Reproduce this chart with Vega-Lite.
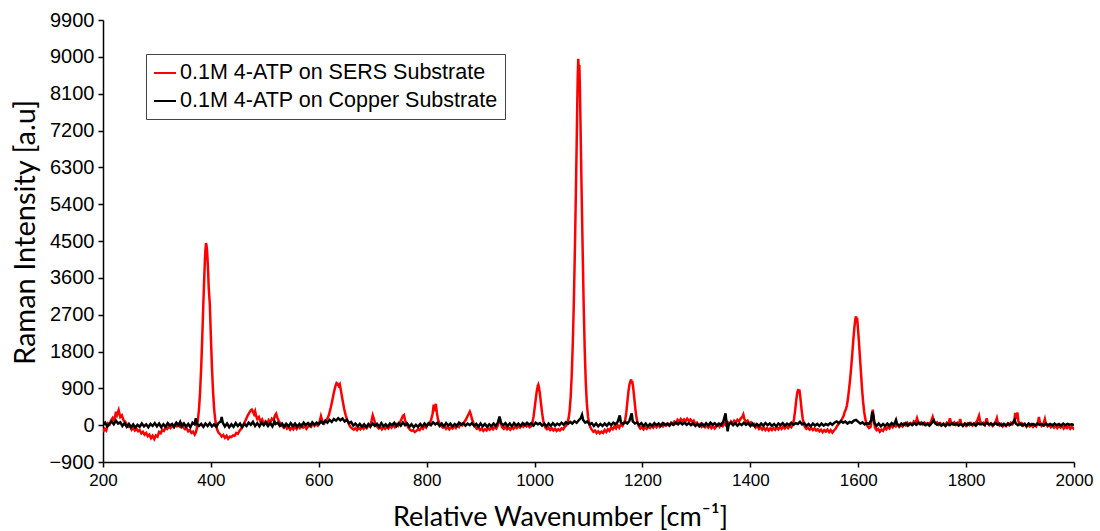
{
"$schema": "https://vega.github.io/schema/vega-lite/v6.json",
"width": 971, "height": 442,
"autosize": {"type": "none"},
"padding": {"left": 103, "top": 20, "right": 26, "bottom": 69},
"background": "white",
"config": {"view": {"stroke": null}, "axis": {"grid": false, "domainColor": "black", "tickColor": "black", "labelColor": "black", "titleColor": "black", "domainWidth": 1.5, "tickWidth": 1.5, "tickSize": 5, "labelFlush": false, "labelOverlap": false}},
"datasets": {
"sers": [
{"x":200,"y":-170},{"x":203,"y":-90},{"x":206,"y":-130},{"x":209,"y":40},{"x":212,"y":10},{"x":215,"y":120},{"x":218,"y":180},{"x":221,"y":110},{"x":224,"y":330},{"x":226,"y":250},{"x":229,"y":370},{"x":232,"y":200},{"x":235,"y":240},{"x":238,"y":120},{"x":241,"y":90},{"x":244,"y":20},{"x":247,"y":-40},{"x":250,"y":-20},{"x":253,"y":-110},{"x":256,"y":-60},{"x":259,"y":-130},{"x":262,"y":-90},{"x":265,"y":-150},{"x":268,"y":-120},{"x":271,"y":-200},{"x":274,"y":-160},{"x":277,"y":-230},{"x":280,"y":-190},{"x":283,"y":-270},{"x":286,"y":-230},{"x":289,"y":-320},{"x":292,"y":-260},{"x":295,"y":-340},{"x":298,"y":-250},{"x":301,"y":-280},{"x":304,"y":-170},{"x":307,"y":-200},{"x":310,"y":-110},{"x":313,"y":-140},{"x":316,"y":-60},{"x":319,"y":-90},{"x":322,"y":-30},{"x":325,"y":-70},{"x":328,"y":-10},{"x":331,"y":-50},{"x":334,"y":20},{"x":337,"y":-30},{"x":340,"y":10},{"x":343,"y":-40},{"x":346,"y":30},{"x":349,"y":-60},{"x":352,"y":-100},{"x":355,"y":-80},{"x":358,"y":-150},{"x":361,"y":-120},{"x":364,"y":-190},{"x":367,"y":-160},{"x":370,"y":-230},{"x":372,"y":-180},{"x":374,"y":-80},{"x":376,"y":140},{"x":378,"y":400},{"x":380,"y":820},{"x":382,"y":1400},{"x":384,"y":2150},{"x":386,"y":2960},{"x":387,"y":3350},{"x":388,"y":3720},{"x":389,"y":4050},{"x":390,"y":4300},{"x":391,"y":4450},{"x":392,"y":4380},{"x":393,"y":4250},{"x":394,"y":4000},{"x":395,"y":3720},{"x":396,"y":3350},{"x":398,"y":2960},{"x":400,"y":2150},{"x":402,"y":1400},{"x":404,"y":820},{"x":406,"y":400},{"x":408,"y":140},{"x":410,"y":-20},{"x":412,"y":-120},{"x":414,"y":-180},{"x":417,"y":-220},{"x":420,"y":-280},{"x":423,"y":-240},{"x":426,"y":-310},{"x":429,"y":-260},{"x":432,"y":-330},{"x":435,"y":-280},{"x":438,"y":-290},{"x":441,"y":-250},{"x":444,"y":-260},{"x":447,"y":-190},{"x":450,"y":-210},{"x":453,"y":-140},{"x":456,"y":-90},{"x":459,"y":-20},{"x":462,"y":60},{"x":465,"y":140},{"x":468,"y":230},{"x":471,"y":300},{"x":474,"y":360},{"x":476,"y":380},{"x":478,"y":330},{"x":480,"y":270},{"x":482,"y":340},{"x":484,"y":220},{"x":486,"y":150},{"x":489,"y":200},{"x":492,"y":80},{"x":495,"y":140},{"x":498,"y":40},{"x":501,"y":90},{"x":504,"y":20},{"x":507,"y":120},{"x":510,"y":60},{"x":513,"y":160},{"x":516,"y":120},{"x":519,"y":240},{"x":521,"y":280},{"x":523,"y":190},{"x":526,"y":100},{"x":529,"y":30},{"x":532,"y":-20},{"x":535,"y":-60},{"x":538,"y":10},{"x":541,"y":-80},{"x":544,"y":-40},{"x":547,"y":-110},{"x":550,"y":-50},{"x":553,"y":-100},{"x":556,"y":-30},{"x":559,"y":-90},{"x":562,"y":-20},{"x":565,"y":-70},{"x":568,"y":0},{"x":571,"y":-60},{"x":574,"y":-20},{"x":577,"y":-90},{"x":580,"y":-40},{"x":583,"y":20},{"x":586,"y":-30},{"x":589,"y":40},{"x":592,"y":-20},{"x":595,"y":30},{"x":598,"y":-10},{"x":601,"y":60},{"x":604,"y":220},{"x":607,"y":80},{"x":610,"y":40},{"x":613,"y":110},{"x":616,"y":160},{"x":619,"y":260},{"x":622,"y":420},{"x":625,"y":600},{"x":628,"y":800},{"x":631,"y":960},{"x":633,"y":1030},{"x":635,"y":1010},{"x":637,"y":960},{"x":639,"y":1000},{"x":641,"y":850},{"x":644,"y":620},{"x":647,"y":400},{"x":650,"y":240},{"x":653,"y":110},{"x":656,"y":20},{"x":659,"y":-50},{"x":662,"y":-80},{"x":665,"y":-110},{"x":668,"y":-70},{"x":671,"y":-120},{"x":674,"y":-60},{"x":677,"y":-100},{"x":680,"y":-40},{"x":683,"y":-90},{"x":686,"y":-20},{"x":689,"y":-70},{"x":692,"y":0},{"x":695,"y":-40},{"x":698,"y":120},{"x":700,"y":240},{"x":702,"y":160},{"x":705,"y":30},{"x":708,"y":-30},{"x":711,"y":-80},{"x":714,"y":-40},{"x":717,"y":-100},{"x":720,"y":-50},{"x":723,"y":-90},{"x":726,"y":-30},{"x":729,"y":-80},{"x":732,"y":-20},{"x":735,"y":-60},{"x":738,"y":10},{"x":741,"y":-50},{"x":744,"y":20},{"x":747,"y":-20},{"x":750,"y":60},{"x":753,"y":140},{"x":756,"y":230},{"x":758,"y":250},{"x":760,"y":120},{"x":763,"y":20},{"x":766,"y":-60},{"x":769,"y":-110},{"x":772,"y":-140},{"x":775,"y":-120},{"x":778,"y":-170},{"x":781,"y":-140},{"x":784,"y":-100},{"x":787,"y":-120},{"x":790,"y":-60},{"x":793,"y":-90},{"x":796,"y":-20},{"x":799,"y":-60},{"x":802,"y":30},{"x":805,"y":10},{"x":808,"y":120},{"x":811,"y":280},{"x":813,"y":500},{"x":815,"y":420},{"x":817,"y":520},{"x":819,"y":300},{"x":821,"y":140},{"x":824,"y":40},{"x":827,"y":-20},{"x":830,"y":-60},{"x":833,"y":-30},{"x":836,"y":-90},{"x":839,"y":-40},{"x":842,"y":-100},{"x":845,"y":-50},{"x":848,"y":-80},{"x":851,"y":-20},{"x":854,"y":-70},{"x":857,"y":10},{"x":860,"y":-40},{"x":863,"y":40},{"x":866,"y":0},{"x":869,"y":60},{"x":872,"y":120},{"x":875,"y":200},{"x":878,"y":280},{"x":880,"y":330},{"x":882,"y":260},{"x":884,"y":150},{"x":887,"y":40},{"x":890,"y":-40},{"x":893,"y":-90},{"x":896,"y":-60},{"x":899,"y":-120},{"x":902,"y":-80},{"x":905,"y":-140},{"x":908,"y":-100},{"x":911,"y":-130},{"x":914,"y":-70},{"x":917,"y":-110},{"x":920,"y":-60},{"x":923,"y":-100},{"x":926,"y":-40},{"x":929,"y":-80},{"x":932,"y":-10},{"x":935,"y":180},{"x":937,"y":60},{"x":940,"y":-50},{"x":943,"y":-90},{"x":946,"y":-40},{"x":949,"y":-100},{"x":952,"y":-60},{"x":955,"y":-110},{"x":958,"y":-50},{"x":961,"y":-90},{"x":964,"y":-30},{"x":967,"y":-70},{"x":970,"y":-20},{"x":973,"y":-60},{"x":976,"y":0},{"x":979,"y":-40},{"x":982,"y":20},{"x":985,"y":-30},{"x":988,"y":10},{"x":991,"y":-50},{"x":994,"y":-20},{"x":996,"y":60},{"x":998,"y":200},{"x":1000,"y":400},{"x":1002,"y":620},{"x":1004,"y":820},{"x":1006,"y":960},{"x":1007,"y":990},{"x":1008,"y":940},{"x":1010,"y":760},{"x":1012,"y":520},{"x":1014,"y":300},{"x":1016,"y":120},{"x":1018,"y":20},{"x":1020,"y":-60},{"x":1023,"y":-100},{"x":1026,"y":-60},{"x":1029,"y":-120},{"x":1032,"y":-80},{"x":1035,"y":-130},{"x":1038,"y":-90},{"x":1041,"y":-140},{"x":1044,"y":-100},{"x":1047,"y":-130},{"x":1050,"y":-80},{"x":1053,"y":-100},{"x":1056,"y":-40},{"x":1059,"y":0},{"x":1061,"y":60},{"x":1063,"y":160},{"x":1065,"y":350},{"x":1067,"y":700},{"x":1069,"y":1250},{"x":1071,"y":2050},{"x":1073,"y":3100},{"x":1075,"y":4450},{"x":1077,"y":6000},{"x":1078,"y":6800},{"x":1079,"y":7700},{"x":1080,"y":8500},{"x":1081,"y":8950},{"x":1082,"y":8700},{"x":1083,"y":8800},{"x":1084,"y":8300},{"x":1085,"y":7500},{"x":1086,"y":6700},{"x":1087,"y":5900},{"x":1089,"y":4400},{"x":1091,"y":2980},{"x":1093,"y":1830},{"x":1095,"y":1030},{"x":1097,"y":520},{"x":1099,"y":220},{"x":1101,"y":60},{"x":1103,"y":-40},{"x":1106,"y":-110},{"x":1109,"y":-160},{"x":1112,"y":-130},{"x":1115,"y":-190},{"x":1118,"y":-150},{"x":1121,"y":-200},{"x":1124,"y":-160},{"x":1127,"y":-190},{"x":1130,"y":-120},{"x":1133,"y":-170},{"x":1136,"y":-100},{"x":1139,"y":-140},{"x":1142,"y":-60},{"x":1145,"y":-100},{"x":1148,"y":-30},{"x":1151,"y":-80},{"x":1154,"y":0},{"x":1157,"y":-60},{"x":1160,"y":20},{"x":1163,"y":-20},{"x":1166,"y":60},{"x":1168,"y":120},{"x":1170,"y":300},{"x":1172,"y":560},{"x":1174,"y":820},{"x":1176,"y":1000},{"x":1178,"y":1080},{"x":1179,"y":1120},{"x":1180,"y":1020},{"x":1181,"y":1080},{"x":1183,"y":900},{"x":1185,"y":640},{"x":1187,"y":380},{"x":1189,"y":180},{"x":1191,"y":60},{"x":1193,"y":-20},{"x":1196,"y":-80},{"x":1199,"y":-40},{"x":1202,"y":-100},{"x":1205,"y":-50},{"x":1208,"y":-90},{"x":1211,"y":-30},{"x":1214,"y":-70},{"x":1217,"y":-10},{"x":1220,"y":-60},{"x":1223,"y":0},{"x":1226,"y":-50},{"x":1229,"y":10},{"x":1232,"y":-40},{"x":1235,"y":20},{"x":1238,"y":-30},{"x":1241,"y":30},{"x":1244,"y":-10},{"x":1247,"y":40},{"x":1250,"y":0},{"x":1253,"y":60},{"x":1256,"y":20},{"x":1259,"y":90},{"x":1262,"y":50},{"x":1265,"y":130},{"x":1268,"y":80},{"x":1271,"y":150},{"x":1274,"y":100},{"x":1277,"y":140},{"x":1280,"y":90},{"x":1283,"y":160},{"x":1286,"y":110},{"x":1289,"y":140},{"x":1292,"y":70},{"x":1295,"y":110},{"x":1298,"y":30},{"x":1301,"y":60},{"x":1304,"y":-10},{"x":1307,"y":30},{"x":1310,"y":-40},{"x":1313,"y":10},{"x":1316,"y":-50},{"x":1319,"y":0},{"x":1322,"y":-60},{"x":1325,"y":-10},{"x":1328,"y":-70},{"x":1331,"y":-20},{"x":1334,"y":-80},{"x":1337,"y":-30},{"x":1340,"y":20},{"x":1343,"y":-40},{"x":1346,"y":30},{"x":1349,"y":-20},{"x":1352,"y":50},{"x":1355,"y":0},{"x":1358,"y":70},{"x":1361,"y":20},{"x":1364,"y":90},{"x":1367,"y":40},{"x":1370,"y":110},{"x":1373,"y":60},{"x":1376,"y":130},{"x":1379,"y":90},{"x":1382,"y":160},{"x":1385,"y":200},{"x":1387,"y":260},{"x":1389,"y":150},{"x":1392,"y":80},{"x":1395,"y":110},{"x":1398,"y":40},{"x":1401,"y":70},{"x":1404,"y":0},{"x":1407,"y":30},{"x":1410,"y":-60},{"x":1413,"y":-20},{"x":1416,"y":-90},{"x":1419,"y":-50},{"x":1422,"y":-110},{"x":1425,"y":-60},{"x":1428,"y":-120},{"x":1431,"y":-70},{"x":1434,"y":-130},{"x":1437,"y":-80},{"x":1440,"y":-120},{"x":1443,"y":-70},{"x":1446,"y":-110},{"x":1449,"y":-50},{"x":1452,"y":-100},{"x":1455,"y":-40},{"x":1458,"y":-90},{"x":1461,"y":-30},{"x":1464,"y":-80},{"x":1467,"y":-20},{"x":1470,"y":-70},{"x":1473,"y":-10},{"x":1476,"y":-50},{"x":1479,"y":30},{"x":1481,"y":150},{"x":1483,"y":350},{"x":1485,"y":600},{"x":1487,"y":790},{"x":1489,"y":880},{"x":1490,"y":820},{"x":1491,"y":870},{"x":1493,"y":640},{"x":1495,"y":380},{"x":1497,"y":170},{"x":1499,"y":40},{"x":1501,"y":-40},{"x":1504,"y":-90},{"x":1507,"y":-60},{"x":1510,"y":-110},{"x":1513,"y":-70},{"x":1516,"y":-120},{"x":1519,"y":-80},{"x":1522,"y":-130},{"x":1525,"y":-100},{"x":1528,"y":-150},{"x":1531,"y":-110},{"x":1534,"y":-170},{"x":1537,"y":-120},{"x":1540,"y":-160},{"x":1543,"y":-110},{"x":1546,"y":-170},{"x":1549,"y":-120},{"x":1552,"y":-180},{"x":1555,"y":-130},{"x":1558,"y":-90},{"x":1561,"y":-20},{"x":1564,"y":40},{"x":1567,"y":80},{"x":1570,"y":150},{"x":1573,"y":230},{"x":1575,"y":330},{"x":1577,"y":380},{"x":1579,"y":480},{"x":1581,"y":650},{"x":1583,"y":880},{"x":1585,"y":1120},{"x":1587,"y":1420},{"x":1589,"y":1750},{"x":1591,"y":2100},{"x":1593,"y":2400},{"x":1595,"y":2620},{"x":1596,"y":2660},{"x":1597,"y":2550},{"x":1598,"y":2620},{"x":1599,"y":2450},{"x":1601,"y":2100},{"x":1603,"y":1700},{"x":1605,"y":1300},{"x":1607,"y":900},{"x":1609,"y":580},{"x":1611,"y":330},{"x":1613,"y":160},{"x":1615,"y":50},{"x":1617,"y":-20},{"x":1620,"y":-70},{"x":1623,"y":-40},{"x":1625,"y":150},{"x":1627,"y":380},{"x":1629,"y":120},{"x":1631,"y":-60},{"x":1634,"y":-120},{"x":1637,"y":-90},{"x":1640,"y":-160},{"x":1643,"y":-110},{"x":1646,"y":-140},{"x":1649,"y":-60},{"x":1652,"y":-100},{"x":1655,"y":-40},{"x":1658,"y":-80},{"x":1661,"y":0},{"x":1664,"y":-50},{"x":1667,"y":30},{"x":1670,"y":-30},{"x":1673,"y":20},{"x":1676,"y":-40},{"x":1679,"y":10},{"x":1682,"y":-30},{"x":1685,"y":40},{"x":1688,"y":0},{"x":1691,"y":60},{"x":1694,"y":10},{"x":1697,"y":50},{"x":1700,"y":20},{"x":1703,"y":90},{"x":1706,"y":40},{"x":1709,"y":170},{"x":1711,"y":80},{"x":1714,"y":30},{"x":1717,"y":70},{"x":1720,"y":20},{"x":1723,"y":60},{"x":1726,"y":10},{"x":1729,"y":50},{"x":1732,"y":30},{"x":1735,"y":90},{"x":1738,"y":200},{"x":1740,"y":100},{"x":1743,"y":40},{"x":1746,"y":70},{"x":1749,"y":10},{"x":1752,"y":50},{"x":1755,"y":0},{"x":1758,"y":40},{"x":1761,"y":-10},{"x":1764,"y":60},{"x":1767,"y":20},{"x":1770,"y":170},{"x":1772,"y":60},{"x":1775,"y":20},{"x":1778,"y":70},{"x":1781,"y":10},{"x":1784,"y":60},{"x":1787,"y":30},{"x":1789,"y":150},{"x":1791,"y":40},{"x":1794,"y":-10},{"x":1797,"y":30},{"x":1800,"y":-20},{"x":1803,"y":40},{"x":1806,"y":0},{"x":1809,"y":50},{"x":1812,"y":-10},{"x":1815,"y":30},{"x":1818,"y":60},{"x":1821,"y":120},{"x":1824,"y":230},{"x":1826,"y":90},{"x":1829,"y":30},{"x":1832,"y":60},{"x":1835,"y":10},{"x":1838,"y":170},{"x":1840,"y":50},{"x":1843,"y":0},{"x":1846,"y":40},{"x":1849,"y":-20},{"x":1852,"y":30},{"x":1855,"y":90},{"x":1857,"y":170},{"x":1859,"y":40},{"x":1862,"y":-10},{"x":1865,"y":30},{"x":1868,"y":-30},{"x":1871,"y":20},{"x":1874,"y":-20},{"x":1877,"y":40},{"x":1880,"y":0},{"x":1883,"y":60},{"x":1886,"y":20},{"x":1889,"y":80},{"x":1891,"y":300},{"x":1893,"y":150},{"x":1895,"y":310},{"x":1897,"y":90},{"x":1900,"y":20},{"x":1903,"y":50},{"x":1906,"y":-10},{"x":1909,"y":30},{"x":1912,"y":-40},{"x":1915,"y":10},{"x":1918,"y":-30},{"x":1921,"y":20},{"x":1924,"y":-40},{"x":1927,"y":10},{"x":1930,"y":-30},{"x":1933,"y":60},{"x":1935,"y":200},{"x":1937,"y":40},{"x":1940,"y":-20},{"x":1943,"y":20},{"x":1946,"y":150},{"x":1948,"y":30},{"x":1951,"y":-30},{"x":1954,"y":10},{"x":1957,"y":-50},{"x":1960,"y":0},{"x":1963,"y":-60},{"x":1966,"y":-10},{"x":1969,"y":-70},{"x":1972,"y":-20},{"x":1975,"y":-60},{"x":1978,"y":-10},{"x":1981,"y":-80},{"x":1984,"y":-30},{"x":1987,"y":-70},{"x":1990,"y":-20},{"x":1993,"y":-90},{"x":1996,"y":-40},{"x":1999,"y":-80},{"x":2000,"y":-60}
],
"copper": [
{"x":200,"y":0},{"x":204,"y":60},{"x":208,"y":-30},{"x":212,"y":40},{"x":216,"y":90},{"x":220,"y":20},{"x":224,"y":110},{"x":228,"y":40},{"x":232,"y":70},{"x":236,"y":-20},{"x":240,"y":50},{"x":244,"y":-40},{"x":248,"y":30},{"x":252,"y":-50},{"x":256,"y":20},{"x":260,"y":-60},{"x":264,"y":10},{"x":268,"y":-40},{"x":272,"y":40},{"x":276,"y":-30},{"x":280,"y":20},{"x":284,"y":-50},{"x":288,"y":30},{"x":292,"y":-20},{"x":296,"y":50},{"x":300,"y":-30},{"x":304,"y":40},{"x":308,"y":-50},{"x":312,"y":20},{"x":316,"y":-40},{"x":320,"y":50},{"x":324,"y":-10},{"x":328,"y":30},{"x":332,"y":-40},{"x":336,"y":60},{"x":340,"y":0},{"x":343,"y":80},{"x":346,"y":-30},{"x":350,"y":40},{"x":354,"y":-40},{"x":358,"y":30},{"x":362,"y":-50},{"x":366,"y":60},{"x":370,"y":20},{"x":372,"y":170},{"x":374,"y":40},{"x":378,"y":-20},{"x":382,"y":30},{"x":386,"y":-40},{"x":390,"y":40},{"x":394,"y":-20},{"x":398,"y":50},{"x":402,"y":-30},{"x":406,"y":20},{"x":410,"y":-40},{"x":414,"y":50},{"x":418,"y":90},{"x":420,"y":200},{"x":422,"y":60},{"x":426,"y":-30},{"x":430,"y":40},{"x":434,"y":-50},{"x":438,"y":20},{"x":442,"y":-40},{"x":446,"y":50},{"x":450,"y":-20},{"x":454,"y":40},{"x":458,"y":-50},{"x":462,"y":30},{"x":466,"y":-20},{"x":470,"y":60},{"x":474,"y":10},{"x":478,"y":80},{"x":482,"y":-20},{"x":486,"y":50},{"x":490,"y":-30},{"x":494,"y":60},{"x":498,"y":0},{"x":502,"y":70},{"x":506,"y":-20},{"x":510,"y":50},{"x":514,"y":-30},{"x":518,"y":90},{"x":520,"y":30},{"x":524,"y":60},{"x":528,"y":-20},{"x":532,"y":40},{"x":536,"y":-40},{"x":540,"y":30},{"x":544,"y":-30},{"x":548,"y":50},{"x":552,"y":-20},{"x":556,"y":40},{"x":560,"y":-40},{"x":564,"y":30},{"x":568,"y":-30},{"x":572,"y":60},{"x":576,"y":0},{"x":580,"y":50},{"x":584,"y":-20},{"x":588,"y":70},{"x":592,"y":10},{"x":596,"y":60},{"x":600,"y":20},{"x":604,"y":90},{"x":608,"y":40},{"x":612,"y":110},{"x":616,"y":60},{"x":620,"y":130},{"x":624,"y":80},{"x":628,"y":150},{"x":632,"y":110},{"x":636,"y":170},{"x":640,"y":120},{"x":644,"y":160},{"x":648,"y":90},{"x":652,"y":130},{"x":656,"y":50},{"x":660,"y":80},{"x":664,"y":-10},{"x":668,"y":40},{"x":672,"y":-30},{"x":676,"y":30},{"x":680,"y":-40},{"x":684,"y":20},{"x":688,"y":-50},{"x":692,"y":30},{"x":696,"y":-30},{"x":700,"y":40},{"x":704,"y":-20},{"x":708,"y":30},{"x":712,"y":-40},{"x":716,"y":50},{"x":720,"y":-30},{"x":724,"y":20},{"x":728,"y":-40},{"x":732,"y":40},{"x":736,"y":0},{"x":740,"y":60},{"x":744,"y":-20},{"x":748,"y":50},{"x":752,"y":-10},{"x":756,"y":70},{"x":760,"y":0},{"x":764,"y":40},{"x":768,"y":-40},{"x":772,"y":20},{"x":776,"y":-50},{"x":780,"y":10},{"x":784,"y":-40},{"x":788,"y":30},{"x":792,"y":-30},{"x":796,"y":40},{"x":800,"y":-20},{"x":804,"y":50},{"x":808,"y":0},{"x":812,"y":70},{"x":816,"y":20},{"x":820,"y":60},{"x":824,"y":-20},{"x":828,"y":40},{"x":832,"y":-30},{"x":836,"y":50},{"x":840,"y":-10},{"x":844,"y":40},{"x":848,"y":-30},{"x":852,"y":30},{"x":856,"y":-20},{"x":860,"y":60},{"x":864,"y":10},{"x":868,"y":50},{"x":872,"y":-10},{"x":876,"y":40},{"x":880,"y":0},{"x":884,"y":50},{"x":888,"y":-20},{"x":892,"y":30},{"x":896,"y":-40},{"x":900,"y":40},{"x":904,"y":-30},{"x":908,"y":30},{"x":912,"y":-40},{"x":916,"y":20},{"x":920,"y":-30},{"x":924,"y":40},{"x":928,"y":-20},{"x":932,"y":60},{"x":935,"y":210},{"x":938,"y":50},{"x":942,"y":0},{"x":946,"y":50},{"x":950,"y":-20},{"x":954,"y":40},{"x":958,"y":-30},{"x":962,"y":50},{"x":966,"y":-10},{"x":970,"y":40},{"x":974,"y":-20},{"x":978,"y":50},{"x":982,"y":0},{"x":986,"y":60},{"x":990,"y":10},{"x":994,"y":50},{"x":998,"y":-10},{"x":1002,"y":60},{"x":1006,"y":20},{"x":1010,"y":50},{"x":1014,"y":-10},{"x":1018,"y":40},{"x":1022,"y":-30},{"x":1026,"y":40},{"x":1030,"y":-20},{"x":1034,"y":50},{"x":1038,"y":-10},{"x":1042,"y":40},{"x":1046,"y":0},{"x":1050,"y":60},{"x":1054,"y":10},{"x":1058,"y":70},{"x":1062,"y":30},{"x":1066,"y":80},{"x":1070,"y":40},{"x":1074,"y":100},{"x":1078,"y":60},{"x":1082,"y":120},{"x":1086,"y":180},{"x":1088,"y":250},{"x":1090,"y":130},{"x":1094,"y":60},{"x":1098,"y":90},{"x":1102,"y":20},{"x":1106,"y":50},{"x":1110,"y":-20},{"x":1114,"y":40},{"x":1118,"y":-30},{"x":1122,"y":30},{"x":1126,"y":-20},{"x":1130,"y":40},{"x":1134,"y":-10},{"x":1138,"y":50},{"x":1142,"y":0},{"x":1146,"y":60},{"x":1150,"y":20},{"x":1154,"y":80},{"x":1158,"y":240},{"x":1160,"y":70},{"x":1164,"y":30},{"x":1168,"y":80},{"x":1172,"y":40},{"x":1176,"y":110},{"x":1180,"y":290},{"x":1182,"y":90},{"x":1186,"y":40},{"x":1190,"y":70},{"x":1194,"y":0},{"x":1198,"y":50},{"x":1202,"y":-20},{"x":1206,"y":40},{"x":1210,"y":-30},{"x":1214,"y":30},{"x":1218,"y":-20},{"x":1222,"y":50},{"x":1226,"y":0},{"x":1230,"y":40},{"x":1234,"y":-20},{"x":1238,"y":50},{"x":1242,"y":0},{"x":1246,"y":40},{"x":1250,"y":-10},{"x":1254,"y":50},{"x":1258,"y":10},{"x":1262,"y":60},{"x":1266,"y":20},{"x":1270,"y":70},{"x":1274,"y":20},{"x":1278,"y":60},{"x":1282,"y":10},{"x":1286,"y":50},{"x":1290,"y":0},{"x":1294,"y":40},{"x":1298,"y":-20},{"x":1302,"y":30},{"x":1306,"y":-30},{"x":1310,"y":40},{"x":1314,"y":-20},{"x":1318,"y":50},{"x":1322,"y":-10},{"x":1326,"y":60},{"x":1330,"y":10},{"x":1334,"y":50},{"x":1338,"y":-10},{"x":1342,"y":40},{"x":1346,"y":0},{"x":1350,"y":90},{"x":1354,"y":290},{"x":1356,"y":40},{"x":1358,"y":-150},{"x":1360,"y":30},{"x":1364,"y":60},{"x":1368,"y":0},{"x":1372,"y":50},{"x":1376,"y":-10},{"x":1380,"y":40},{"x":1384,"y":0},{"x":1388,"y":60},{"x":1392,"y":10},{"x":1396,"y":50},{"x":1400,"y":-20},{"x":1404,"y":40},{"x":1408,"y":-30},{"x":1412,"y":30},{"x":1416,"y":-20},{"x":1420,"y":40},{"x":1424,"y":-10},{"x":1428,"y":50},{"x":1432,"y":0},{"x":1436,"y":40},{"x":1440,"y":-20},{"x":1444,"y":30},{"x":1448,"y":-30},{"x":1452,"y":40},{"x":1456,"y":0},{"x":1460,"y":50},{"x":1464,"y":-10},{"x":1468,"y":40},{"x":1472,"y":0},{"x":1476,"y":60},{"x":1480,"y":10},{"x":1484,"y":50},{"x":1488,"y":30},{"x":1492,"y":80},{"x":1496,"y":20},{"x":1500,"y":50},{"x":1504,"y":-20},{"x":1508,"y":30},{"x":1512,"y":-30},{"x":1516,"y":40},{"x":1520,"y":-10},{"x":1524,"y":30},{"x":1528,"y":-20},{"x":1532,"y":40},{"x":1536,"y":-10},{"x":1540,"y":30},{"x":1544,"y":0},{"x":1548,"y":50},{"x":1552,"y":10},{"x":1556,"y":60},{"x":1560,"y":90},{"x":1564,"y":50},{"x":1568,"y":100},{"x":1572,"y":60},{"x":1576,"y":90},{"x":1580,"y":40},{"x":1584,"y":80},{"x":1588,"y":60},{"x":1592,"y":110},{"x":1596,"y":130},{"x":1600,"y":80},{"x":1604,"y":40},{"x":1608,"y":70},{"x":1612,"y":20},{"x":1616,"y":50},{"x":1620,"y":30},{"x":1624,"y":120},{"x":1626,"y":330},{"x":1628,"y":250},{"x":1630,"y":60},{"x":1634,"y":-20},{"x":1638,"y":40},{"x":1642,"y":-30},{"x":1646,"y":30},{"x":1650,"y":-20},{"x":1654,"y":40},{"x":1658,"y":-10},{"x":1662,"y":50},{"x":1666,"y":0},{"x":1670,"y":130},{"x":1672,"y":30},{"x":1676,"y":-20},{"x":1680,"y":40},{"x":1684,"y":0},{"x":1688,"y":50},{"x":1692,"y":-10},{"x":1696,"y":40},{"x":1700,"y":0},{"x":1704,"y":50},{"x":1708,"y":10},{"x":1712,"y":60},{"x":1716,"y":20},{"x":1720,"y":50},{"x":1724,"y":0},{"x":1728,"y":40},{"x":1732,"y":-10},{"x":1736,"y":50},{"x":1740,"y":120},{"x":1742,"y":60},{"x":1746,"y":10},{"x":1750,"y":40},{"x":1754,"y":-10},{"x":1758,"y":30},{"x":1762,"y":-20},{"x":1766,"y":40},{"x":1770,"y":0},{"x":1774,"y":50},{"x":1778,"y":10},{"x":1782,"y":40},{"x":1786,"y":-10},{"x":1790,"y":30},{"x":1794,"y":-20},{"x":1798,"y":40},{"x":1802,"y":0},{"x":1806,"y":50},{"x":1810,"y":10},{"x":1814,"y":40},{"x":1818,"y":-10},{"x":1822,"y":50},{"x":1826,"y":20},{"x":1830,"y":40},{"x":1834,"y":0},{"x":1838,"y":60},{"x":1842,"y":20},{"x":1846,"y":40},{"x":1850,"y":0},{"x":1854,"y":50},{"x":1858,"y":10},{"x":1862,"y":40},{"x":1866,"y":-10},{"x":1870,"y":30},{"x":1874,"y":-10},{"x":1878,"y":40},{"x":1882,"y":10},{"x":1886,"y":50},{"x":1890,"y":130},{"x":1892,"y":40},{"x":1896,"y":0},{"x":1900,"y":40},{"x":1904,"y":-10},{"x":1908,"y":30},{"x":1912,"y":-20},{"x":1916,"y":40},{"x":1920,"y":0},{"x":1924,"y":30},{"x":1928,"y":-10},{"x":1932,"y":40},{"x":1936,"y":10},{"x":1940,"y":30},{"x":1944,"y":-10},{"x":1948,"y":40},{"x":1952,"y":0},{"x":1956,"y":30},{"x":1960,"y":-10},{"x":1964,"y":40},{"x":1968,"y":0},{"x":1972,"y":30},{"x":1976,"y":-10},{"x":1980,"y":40},{"x":1984,"y":0},{"x":1988,"y":30},{"x":1992,"y":10},{"x":1996,"y":20},{"x":2000,"y":0}
]
},
"encoding": {
  "x": {"field": "x", "type": "quantitative",
    "scale": {"domain": [200, 2000], "nice": false, "zero": false},
    "axis": {"values": [200,400,600,800,1000,1200,1400,1600,1800,2000], "format": "d", "title": "Relative Wavenumber [cm⁻¹]",
      "labelFont": "Liberation Sans", "labelFontSize": 17, "labelPadding": 5,
      "titleFont": "Lato", "titleFontSize": 27, "titleFontWeight": "normal", "titlePadding": 16, "titleX": 457}},
  "y": {"field": "y", "type": "quantitative",
    "scale": {"domain": [-900, 9900], "nice": false, "zero": false},
    "axis": {"values": [-900,0,900,1800,2700,3600,4500,5400,6300,7200,8100,9000,9900], "format": "d", "title": "Raman Intensity [a.u]",
      "labelFont": "Liberation Sans", "labelFontSize": 20, "labelPadding": 4,
      "titleFont": "Lato", "titleFontSize": 29, "titleFontWeight": "normal", "titlePadding": 8, "titleY": 212}}
},
"layer": [
  {"data": {"name": "sers"}, "mark": {"type": "line", "strokeWidth": 2.5, "clip": true},
   "encoding": {"color": {"datum": "0.1M 4-ATP on SERS Substrate", "type": "nominal",
     "scale": {"domain": ["0.1M 4-ATP on SERS Substrate", "0.1M 4-ATP on Copper Substrate"], "range": ["#ff0000", "#000000"]},
     "legend": {"title": null, "orient": "none", "legendX": 43, "legendY": 34, "strokeColor": "#444", "fillColor": "white", "padding": 7,
       "symbolType": "stroke", "symbolSize": 484, "symbolStrokeWidth": 2, "labelFont": "Liberation Sans", "labelFontSize": 21.5, "labelColor": "black", "labelLimit": 500, "labelOffset": 3, "rowPadding": 5}}}},
  {"data": {"name": "copper"}, "mark": {"type": "line", "strokeWidth": 2.5, "clip": true},
   "encoding": {"color": {"datum": "0.1M 4-ATP on Copper Substrate", "type": "nominal"}}}
]
}
